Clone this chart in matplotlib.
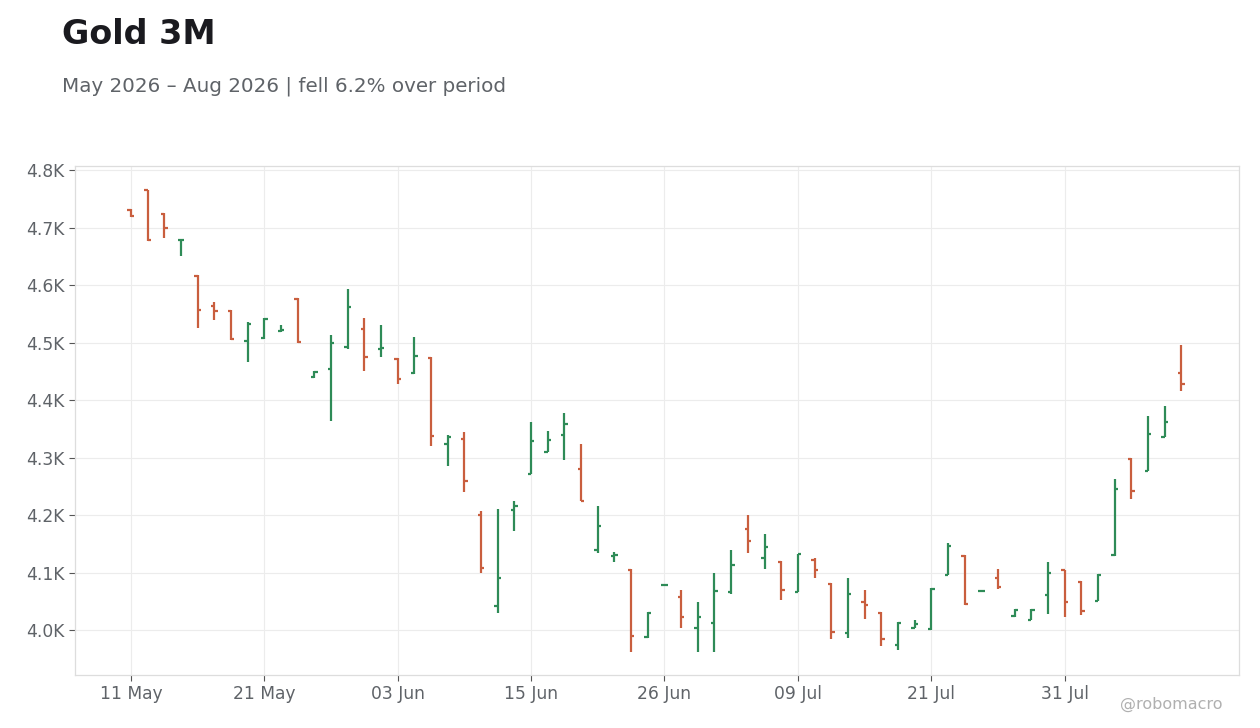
import matplotlib.pyplot as plt
import numpy as np
import pandas as pd
from matplotlib.ticker import FuncFormatter

# trading days (NYSE calendar, holidays skipped)
dates = pd.bdate_range("2026-05-11", "2026-08-11", freq="C",
                       holidays=["2026-05-25", "2026-06-19", "2026-07-03"])

opens = [4731, 4765, 4724, 4678, 4616, 4564, 4554, 4503, 4508, 4520,
         4575, 4440, 4454, 4493, 4523, 4488, 4472, 4447, 4474, 4324,
         4332, 4201, 4042, 4209, 4272, 4310, 4340, 4281, 4140, 4129,
         4105, 3988, 4079, 4058, 4003, 4013, 4067, 4176, 4126, 4118,
         4067, 4122, 4081, 3995, 4049, 4030, 3974, 4004, 4002, 4096,
         4129, 4068, 4091, 4024, 4018, 4061, 4104, 4084, 4051, 4130,
         4298, 4277, 4336, 4447]
highs = [4732, 4766, 4726, 4680, 4617, 4570, 4556, 4535, 4543, 4530,
         4577, 4451, 4513, 4593, 4542, 4530, 4473, 4509, 4475, 4340,
         4344, 4207, 4210, 4224, 4362, 4346, 4377, 4323, 4216, 4136,
         4106, 4031, 4080, 4070, 4049, 4099, 4139, 4200, 4167, 4120,
         4133, 4125, 4082, 4090, 4070, 4031, 4014, 4017, 4073, 4151,
         4131, 4069, 4107, 4036, 4036, 4118, 4105, 4085, 4097, 4263,
         4300, 4372, 4389, 4496]
lows = [4718, 4677, 4681, 4651, 4526, 4540, 4505, 4467, 4506, 4519,
        4500, 4439, 4364, 4489, 4451, 4475, 4428, 4445, 4321, 4286,
        4241, 4100, 4030, 4173, 4271, 4309, 4296, 4224, 4134, 4119,
        3962, 3987, 4078, 4003, 3962, 3962, 4062, 4134, 4106, 4053,
        4066, 4091, 3985, 3987, 4020, 3973, 3965, 4003, 4000, 4095,
        4044, 4067, 4072, 4023, 4017, 4028, 4022, 4027, 4050, 4129,
        4228, 4276, 4335, 4416]
closes = [4720, 4678, 4699, 4679, 4557, 4554, 4506, 4533, 4541, 4522,
          4501, 4449, 4499, 4562, 4475, 4491, 4437, 4477, 4338, 4336,
          4259, 4108, 4091, 4216, 4329, 4331, 4359, 4225, 4181, 4131,
          3990, 4030, 4079, 4022, 4023, 4068, 4114, 4155, 4145, 4070,
          4132, 4104, 3997, 4062, 4043, 3984, 4013, 4011, 4072, 4147,
          4045, 4068, 4075, 4035, 4035, 4100, 4049, 4034, 4096, 4246,
          4242, 4341, 4362, 4428]

UP = "#2E8B57"
DOWN = "#C95E3E"
GREY = "#5f6368"

x = np.arange(len(dates))
o, h, l, c = map(np.array, (opens, highs, lows, closes))
colors = np.where(c >= o, UP, DOWN)

fig = plt.figure(figsize=(12.6, 7.28), dpi=100)
ax = fig.add_axes([0.0595, 0.0728, 0.9238, 0.6992])

tick = 0.2
ax.vlines(x, l, h, colors=colors, lw=1.6, zorder=3)
ax.hlines(o, x - tick, x, colors=colors, lw=1.6, zorder=3)
ax.hlines(c, x, x + tick, colors=colors, lw=1.6, zorder=3)

ax.set_xlim(-3.35, 66.45)
ax.set_ylim(3922, 4807)

xt = x[::8]
ax.set_xticks(xt)
ax.set_xticklabels([d.strftime("%d %b") for d in dates[::8]])
ax.set_yticks(np.arange(4000, 4801, 100))
ax.yaxis.set_major_formatter(FuncFormatter(lambda v, _: f"{v / 1000:.1f}K"))

ax.grid(True, color="#ececec", lw=0.8, zorder=0)
for s in ax.spines.values():
    s.set_color("#dddddd")
    s.set_linewidth(0.9)
ax.tick_params(colors="#555555", labelcolor=GREY, labelsize=12.3,
               length=4, width=0.8)

fig.text(0.049, 0.94, "Gold 3M", fontsize=24, fontweight="bold",
         color="#1a1a1f", va="baseline")
fig.text(0.049, 0.874, "May 2026 \u2013 Aug 2026 | fell 6.2% over period",
         fontsize=14.3, color=GREY, va="baseline")
fig.text(0.97, 0.026, "@robomacro", fontsize=11.5, color="#b0b0b0",
         ha="right", va="baseline")

fig.savefig("out.png", dpi=100, facecolor="white")
